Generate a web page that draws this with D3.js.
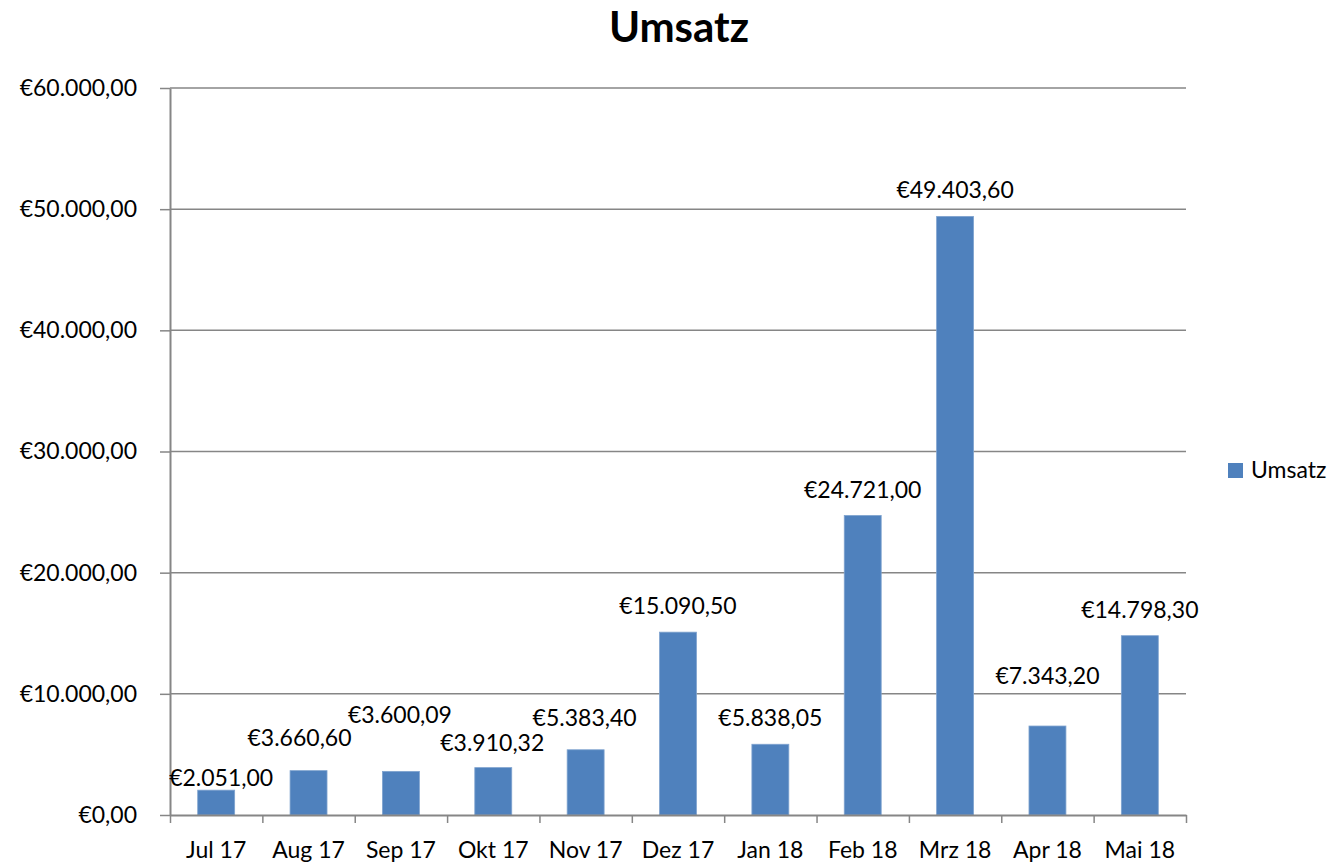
<!DOCTYPE html>
<html>
<head>
<meta charset="utf-8">
<script src="https://cdn.jsdelivr.net/npm/d3@7"></script>
<style>
  body { margin: 0; background: #fff; }
  svg { font-family: Lato, "Noto Sans", sans-serif; }
  .axis path, .axis line { stroke: #868686; }
</style>
</head>
<body>
<div id="chart"></div>
<script>
// data
const months = ["Jul 17", "Aug 17", "Sep 17", "Okt 17", "Nov 17", "Dez 17", "Jan 18", "Feb 18", "Mrz 18", "Apr 18", "Mai 18"];
const umsatz = [2051.00, 3660.60, 3600.09, 3910.32, 5383.40, 15090.50, 5838.05, 24721.00, 49403.60, 7343.20, 14798.30];
const yTicks = [0, 10000, 20000, 30000, 40000, 50000, 60000];
const seriesName = "Umsatz";

// label nudges (Excel moved some labels so they don't overlap)
const labelNudge = [[5, 14], [-9, -7], [-1, -30], [-1, 1], [-1, -6], [0, 0], [0, 0], [0, 0], [0, 0], [0, -24], [0, 0]];

const W = 1336, H = 864;
const plotLeft = 170, plotRight = 1186, plotTop = 88, plotBottom = 815;

const de = d3.formatLocale({ decimal: ",", thousands: ".", grouping: [3], currency: ["€", ""] });
const fmt = de.format("$,.2f");

const svg = d3.select("#chart").append("svg")
    .attr("width", W)
    .attr("height", H);

const x = d3.scaleBand()
    .domain(months)
    .range([plotLeft, plotRight])
    .paddingInner(0.6)
    .paddingOuter(0.3);

const xEdge = d3.scaleLinear()
    .domain([0, months.length])
    .range([plotLeft, plotRight]);

const y = d3.scaleLinear()
    .domain([0, 60000])
    .range([plotBottom, plotTop]);

// gridlines
svg.append("g")
    .selectAll("line")
    .data(yTicks.slice(1))
    .join("line")
    .attr("x1", plotLeft)
    .attr("x2", plotRight)
    .attr("y1", d => y(d))
    .attr("y2", d => y(d))
    .attr("stroke", "#868686")
    .attr("stroke-width", 1.5);

// bars
svg.append("g")
    .selectAll("rect")
    .data(umsatz)
    .join("rect")
    .attr("x", (d, i) => x(months[i]))
    .attr("y", d => y(d))
    .attr("width", x.bandwidth())
    .attr("height", d => y(0) - y(d))
    .attr("fill", "#4F81BD")
    .attr("stroke", "#7FA3CF")
    .attr("stroke-width", 0.8);

// y axis
const yAxis = svg.append("g")
    .attr("class", "axis")
    .attr("transform", `translate(${plotLeft},0)`)
    .call(d3.axisLeft(y).tickValues(yTicks).tickFormat(fmt).tickSize(10).tickSizeOuter(0).tickPadding(23));
yAxis.select(".domain").attr("stroke-width", 2);
yAxis.selectAll("line").attr("stroke-width", 1.5);
yAxis.selectAll("text")
    .attr("font-size", 23)
    .attr("font-family", "Lato, sans-serif")
    .attr("fill", "#000");

// x axis ticks at category edges
const xAxis = svg.append("g")
    .attr("class", "axis")
    .attr("transform", `translate(0,${plotBottom})`)
    .call(d3.axisBottom(xEdge).tickValues(d3.range(months.length + 1)).tickFormat("").tickSize(8).tickSizeOuter(0));
xAxis.select(".domain").attr("stroke-width", 2);
xAxis.selectAll("line").attr("stroke-width", 1.5);

// category labels
svg.append("g")
    .attr("transform", `translate(0,${plotBottom})`)
    .call(d3.axisBottom(x).tickSize(0).tickPadding(27))
    .call(g => g.select(".domain").remove())
    .selectAll("text")
    .attr("font-size", 23)
    .attr("fill", "#000")
    .attr("font-family", "Lato, sans-serif");

// value labels
svg.append("g")
    .selectAll("text")
    .data(umsatz)
    .join("text")
    .attr("x", (d, i) => x(months[i]) + x.bandwidth() / 2 + labelNudge[i][0])
    .attr("y", (d, i) => y(d) - 26 + labelNudge[i][1])
    .attr("dy", "0.35em")
    .attr("text-anchor", "middle")
    .attr("font-size", 23)
    .text(d => fmt(d));

// title
svg.append("text")
    .attr("x", 679)
    .attr("y", 42)
    .attr("text-anchor", "middle")
    .attr("font-size", 42)
    .attr("font-weight", "bold")
    .text("Umsatz");

// legend
const legend = svg.append("g")
    .attr("transform", "translate(1228,463)");
legend.append("rect")
    .attr("width", 15)
    .attr("height", 15)
    .attr("fill", "#4F81BD");
legend.append("text")
    .attr("x", 23)
    .attr("y", 15)
    .attr("font-size", 23)
    .text(seriesName);
</script>
</body>
</html>
